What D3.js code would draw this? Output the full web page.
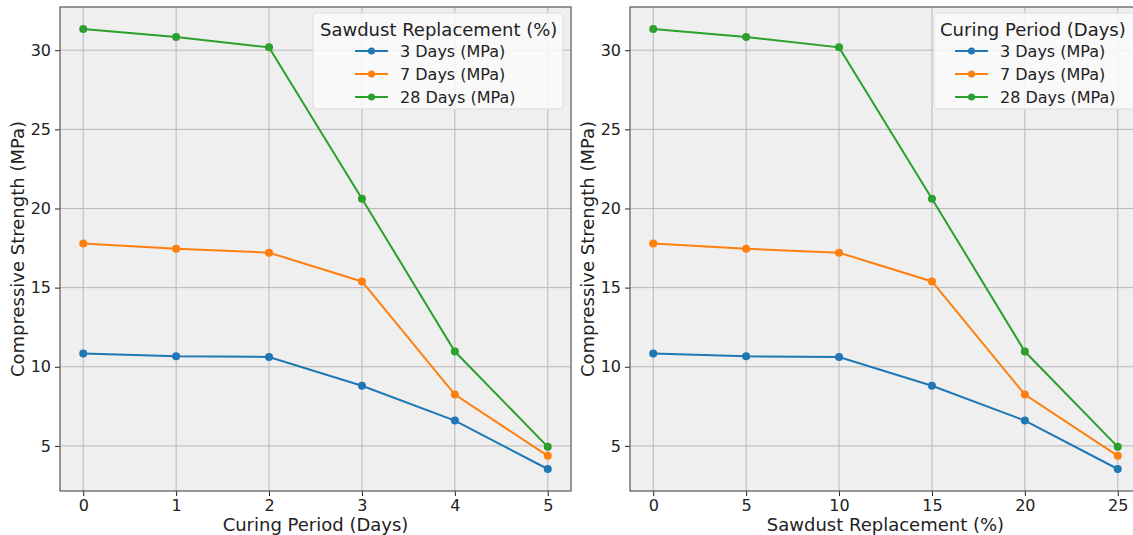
<!DOCTYPE html>
<html>
<head>
<meta charset="utf-8">
<script src="https://cdn.jsdelivr.net/npm/d3@7"></script>
<style>
  body { margin: 0; background: #fff; }
  svg { font-family: "DejaVu Sans", sans-serif; display: block; }
</style>
</head>
<body>
<div id="chart"></div>
<script>
// data
const curingDays = [0, 1, 2, 3, 4, 5];
const sawdustPct = [0, 5, 10, 15, 20, 25];
const seriesNames = ["3 Days (MPa)", "7 Days (MPa)", "28 Days (MPa)"];
const strength3 = [10.83, 10.66, 10.62, 8.8, 6.6, 3.54];
const strength7 = [17.78, 17.45, 17.21, 15.39, 8.24, 4.37];
const strength28 = [31.34, 30.83, 30.18, 20.62, 10.96, 4.94];
const yTicks = [5, 10, 15, 20, 25, 30];
const colors = ["#1f77b4", "#ff7f0e", "#2ca02c"];

const allSeries = [strength3, strength7, strength28];

const svg = d3.select("#chart").append("svg")
    .attr("width", 1133)
    .attr("height", 535);

function panel(left, xVals, xLabel, legendTitle, legendBox) {
    const top = 7, w = 511, h = 484;
    const g = svg.append("g").attr("transform", `translate(${left},${top})`);

    const step = xVals[1] - xVals[0];
    const x = d3.scaleLinear()
        .domain([xVals[0] - step * 0.25, xVals[xVals.length - 1] + step * 0.25])
        .range([0, w]);
    const lo = d3.min(allSeries.flat()), hi = d3.max(allSeries.flat());
    const pad = (hi - lo) * 0.05;
    const y = d3.scaleLinear().domain([lo - pad, hi + pad]).range([h, 0]);

    g.append("rect").attr("width", w).attr("height", h).attr("fill", "#efefef");

    // grid
    g.selectAll(".vg").data(xVals).enter().append("line")
        .attr("x1", d => x(d)).attr("x2", d => x(d))
        .attr("y1", 0).attr("y2", h)
        .attr("stroke", "#b8b8b8").attr("stroke-width", 1);
    g.selectAll(".hg").data(yTicks).enter().append("line")
        .attr("x1", 0).attr("x2", w)
        .attr("y1", d => y(d)).attr("y2", d => y(d))
        .attr("stroke", "#b8b8b8").attr("stroke-width", 1);

    // axes
    const xAxis = g.append("g").attr("transform", `translate(0,${h})`)
        .call(d3.axisBottom(x).tickValues(xVals).tickSize(5).tickPadding(4).tickFormat(d3.format("d")));
    const yAxis = g.append("g")
        .call(d3.axisLeft(y).tickValues(yTicks).tickSize(5).tickPadding(4).tickFormat(d3.format("d")));
    [xAxis, yAxis].forEach(a => {
        a.select(".domain").remove();
        a.selectAll("line").attr("stroke", "#222");
        a.selectAll("text").attr("font-size", 16).attr("fill", "#222")
            .attr("font-family", "DejaVu Sans");
    });

    g.append("rect").attr("width", w).attr("height", h)
        .attr("fill", "none").attr("stroke", "#555").attr("stroke-width", 1.2);

    // lines
    const line = d3.line().x((d, i) => x(xVals[i])).y(d => y(d));
    allSeries.forEach((s, k) => {
        g.append("path").datum(s)
            .attr("fill", "none").attr("stroke", colors[k]).attr("stroke-width", 2)
            .attr("d", line);
        g.selectAll(".pt" + k).data(s).enter().append("circle")
            .attr("cx", (d, i) => x(xVals[i])).attr("cy", d => y(d))
            .attr("r", 4).attr("fill", colors[k]);
    });

    // axis labels
    g.append("text").attr("x", w / 2).attr("y", h + 40)
        .attr("text-anchor", "middle").attr("font-size", 18).attr("fill", "#222")
        .text(xLabel);
    g.append("text")
        .attr("transform", `translate(${-36},${h / 2}) rotate(-90)`)
        .attr("text-anchor", "middle").attr("font-size", 18).attr("fill", "#222")
        .text("Compressive Strength (MPa)");

    // legend
    const lg = g.append("g").attr("transform", `translate(${legendBox.x},${legendBox.y})`);
    lg.append("rect").attr("width", legendBox.w).attr("height", 96).attr("rx", 3)
        .attr("fill", "#fafafa").attr("fill-opacity", 0.85)
        .attr("stroke", "#ddd");
    lg.append("text").attr("x", legendBox.tx).attr("y", 23)
        .attr("font-size", 18).attr("fill", "#222")
        .text(legendTitle);
    seriesNames.forEach((name, k) => {
        const yy = 38 + k * 23;
        lg.append("line").attr("x1", legendBox.lx).attr("x2", legendBox.lx + 33)
            .attr("y1", yy).attr("y2", yy).attr("stroke", colors[k]).attr("stroke-width", 2);
        lg.append("circle").attr("cx", legendBox.lx + 16.5).attr("cy", yy).attr("r", 3.5)
            .attr("fill", colors[k]);
        lg.append("text").attr("x", legendBox.lx + 45).attr("y", yy + 6)
            .attr("font-size", 16).attr("fill", "#222").text(name);
    });
}

panel(60, curingDays, "Curing Period (Days)", "Sawdust Replacement (%)",
    { x: 253, y: 6, w: 250, lx: 42, tx: 7 });
panel(630, sawdustPct, "Sawdust Replacement (%)", "Curing Period (Days)",
    { x: 304, y: 6, w: 215, lx: 21, tx: 6 });
</script>
</body>
</html>
